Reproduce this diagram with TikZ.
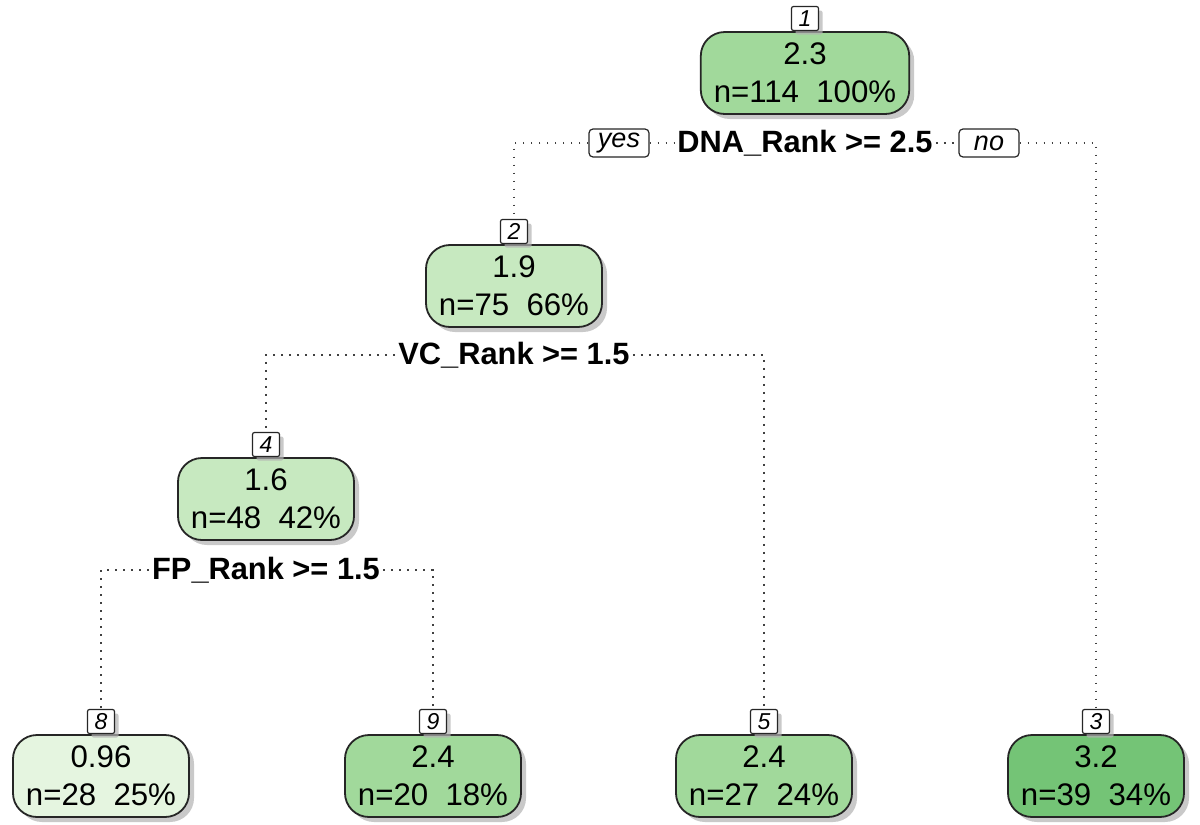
\documentclass[tikz,border=0pt]{standalone}
\usepackage{fontspec}
\setmainfont{Liberation Sans}
\usetikzlibrary{shadows}
\definecolor{grPale}{RGB}{229,245,224}
\definecolor{grLight}{RGB}{199,233,192}
\definecolor{grMid}{RGB}{161,217,155}
\definecolor{grDeep}{RGB}{116,196,118}
\begin{document}
\begin{tikzpicture}[x=0.5pt, y=-0.5pt,
    tnode/.style={draw=black!85, line width=0.9pt, rounded corners=12pt, align=center,
      inner xsep=6.5pt, inner ysep=2pt, minimum height=41pt,
      font=\fontsize{15.6}{19}\selectfont,
      drop shadow={shadow xshift=2.5pt, shadow yshift=-2.5pt, fill=black!30, opacity=0.7}},
    tnum/.style={draw=black!85, line width=0.6pt, rounded corners=1pt, fill=white, anchor=south,
      font=\fontsize{11.5}{11.5}\selectfont\itshape, inner sep=1pt, minimum width=13.5pt, minimum height=12pt,
      drop shadow={shadow xshift=2pt, shadow yshift=-2pt, fill=black!30, opacity=0.7}},
    split/.style={fill=white, inner sep=1.5pt, font=\fontsize{15.4}{15.4}\selectfont\bfseries},
    ans/.style={draw=black!85, line width=0.6pt, rounded corners=2pt, fill=white, inner sep=1pt,
      minimum width=30pt, minimum height=14pt, font=\fontsize{13.5}{13.5}\selectfont\itshape},
    link/.style={black!75, line width=0.9pt, dash pattern=on 0.9pt off 3.1pt}]
  \useasboundingbox (0,0) rectangle (1200,825);
  \node[tnode, fill=grMid] (n1) at (805,73) {2.3\\n=114~~100\%};
  \node[tnode, fill=grLight] (n2) at (514,286) {1.9\\n=75~~66\%};
  \node[tnode, fill=grLight] (n4) at (266,499) {1.6\\n=48~~42\%};
  \node[tnode, fill=grPale] (n8) at (101,776) {0.96\\n=28~~25\%};
  \node[tnode, fill=grMid] (n9) at (433,776) {2.4\\n=20~~18\%};
  \node[tnode, fill=grMid] (n5) at (764,776) {2.4\\n=27~~24\%};
  \node[tnode, fill=grDeep] (n3) at (1096,776) {3.2\\n=39~~34\%};
  \node[tnum] (k1) at (n1.north) {1};
  \node[tnum] (k2) at (n2.north) {2};
  \node[tnum] (k4) at (n4.north) {4};
  \node[tnum] (k8) at (n8.north) {8};
  \node[tnum] (k9) at (n9.north) {9};
  \node[tnum] (k5) at (n5.north) {5};
  \node[tnum] (k3) at (n3.north) {3};
  \node[split] (s1) at (805,143) {DNA\_Rank >= 2.5};
  \node[split] (s2) at (514,355) {VC\_Rank >= 1.5};
  \node[split] (s4) at (266,570) {FP\_Rank >= 1.5};
  \node[ans] (yes) at (619,143) {yes};
  \node[ans] (no) at (989,143) {no};
  \draw[link] (yes.west) -| (k2.north);
  \draw[link] (yes.east) -- (s1.west);
  \draw[link] (s1.east) -- (no.west);
  \draw[link] (no.east) -| (k3.north);
  \draw[link] (s2.west) -| (k4.north);
  \draw[link] (s2.east) -| (k5.north);
  \draw[link] (s4.west) -| (k8.north);
  \draw[link] (s4.east) -| (k9.north);
\end{tikzpicture}
\end{document}
